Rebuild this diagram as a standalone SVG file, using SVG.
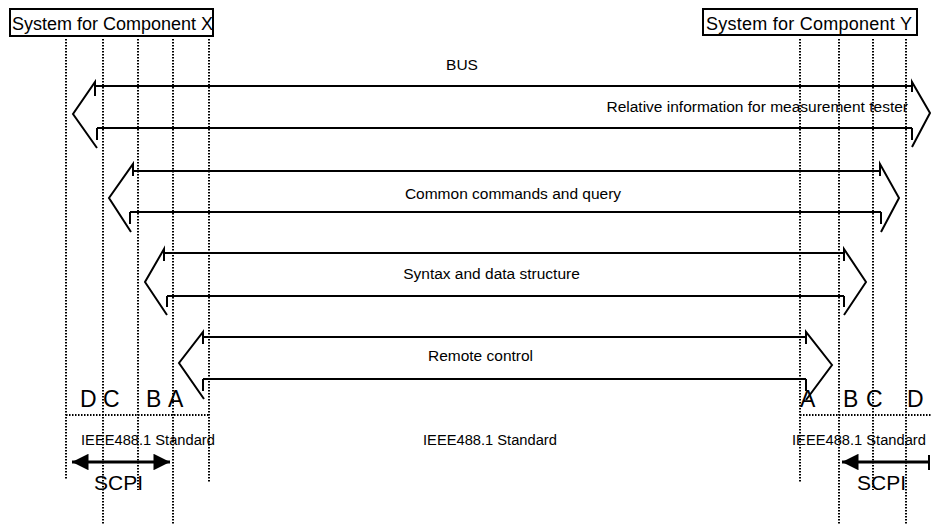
<svg xmlns="http://www.w3.org/2000/svg" width="931" height="525" viewBox="0 0 931 525">
<defs>
<style>
.t{font-family:"Liberation Sans",Arial,sans-serif;fill:#000}
.box{fill:#fff;stroke:#000;stroke-width:2}
.dot{fill:none;stroke:#000;stroke-width:2;stroke-dasharray:1.5 1.5}
.ln{fill:none;stroke:#000;stroke-width:2;stroke-linejoin:miter}
.lbl{font-size:15.5px}
.std{font-size:14.7px}
.let{font-size:23px}
.scpi{font-size:21px}
.thick{fill:none;stroke:#000;stroke-width:3}
</style>
<marker id="ah" viewBox="0 0 10 10" refX="10" refY="5" markerWidth="6" markerHeight="5.5" markerUnits="strokeWidth" orient="auto-start-reverse">
<path d="M0,0 L10,5 L0,10 Z" fill="#000"/>
</marker>
</defs>
<rect width="931" height="525" fill="#fff"/>

<g id="systemX">
<rect class="box" x="10" y="9" width="203" height="27"/>
<text class="t" x="12" y="30" font-size="18">System for Component X</text>
</g>
<g id="systemY">
<rect class="box" x="703" y="9" width="214" height="26"/>
<text class="t" x="706" y="30" font-size="18" textLength="206">System for Component Y</text>
</g>

<g id="gridlines">
<path class="dot" d="M66,39V480M103,39V525M138,39V490M173,39V525M209,39V482"/>
<path class="dot" d="M800,39V482M839,39V525M873,39V490M906,39V525"/>
<path class="dot" d="M66,415H209M800,415H931"/>
</g>

<g id="connectors">
<g id="busArrow">
<path class="ln" d="M95,86H912M97,128H912"/>
<path class="ln" d="M95,96V82L73,114L97,148M97,128V140"/>
<path class="ln" d="M912,92V82L930,113L912,147M912,128V140"/>
</g>
<g id="commonArrow">
<path class="ln" d="M133,171H880M130,212H881"/>
<path class="ln" d="M133,176V164L109,198L131,232M130,212V224"/>
<path class="ln" d="M880,176V164L899,198L881,232M881,212V224"/>
</g>
<g id="syntaxArrow">
<path class="ln" d="M164,253H844M167,296H844"/>
<path class="ln" d="M164,261V249L145,282L167,315M167,296V307"/>
<path class="ln" d="M844,261V249L866,282L844,315M844,296V307"/>
</g>
<g id="remoteArrow">
<path class="ln" d="M203,337H806M203,379H806"/>
<path class="ln" d="M203,344V332L179,363L204,399M203,379V391"/>
<path class="ln" d="M806,344V332L832,365L806,400M806,379V391"/>
</g>
<g id="scpiArrows">
<path class="thick" d="M72,462H170" marker-start="url(#ah)" marker-end="url(#ah)"/>
<path class="thick" d="M929,462H842" marker-end="url(#ah)"/>
<path class="ln" d="M929,455V470"/>
</g>
</g>

<g id="labels">
<text class="t lbl" x="462" y="70" text-anchor="middle">BUS</text>
<text class="t lbl" x="908" y="112" text-anchor="end">Relative information for measurement tester</text>
<text class="t lbl" x="513" y="199" text-anchor="middle">Common commands and query</text>
<text class="t lbl" x="491.5" y="279" text-anchor="middle">Syntax and data structure</text>
<text class="t lbl" x="480.5" y="361" text-anchor="middle">Remote control</text>
</g>

<g id="letters">
<text class="t let" x="80" y="407">D</text>
<text class="t let" x="103" y="407">C</text>
<text class="t let" x="146" y="407">B</text>
<text class="t let" x="168" y="407">A</text>
<text class="t let" x="800" y="407">A</text>
<text class="t let" x="843" y="407">B</text>
<text class="t let" x="866" y="407">C</text>
<text class="t let" x="907" y="407">D</text>
</g>

<g id="standards">
<text class="t std" x="81" y="445">IEEE488.1 Standard</text>
<text class="t std" x="423" y="445">IEEE488.1 Standard</text>
<text class="t std" x="792" y="445">IEEE488.1 Standard</text>
</g>

<g id="scpiLabels">
<text class="t scpi" x="94" y="490">SCPI</text>
<text class="t scpi" x="857" y="490">SCPI</text>
</g>
</svg>
